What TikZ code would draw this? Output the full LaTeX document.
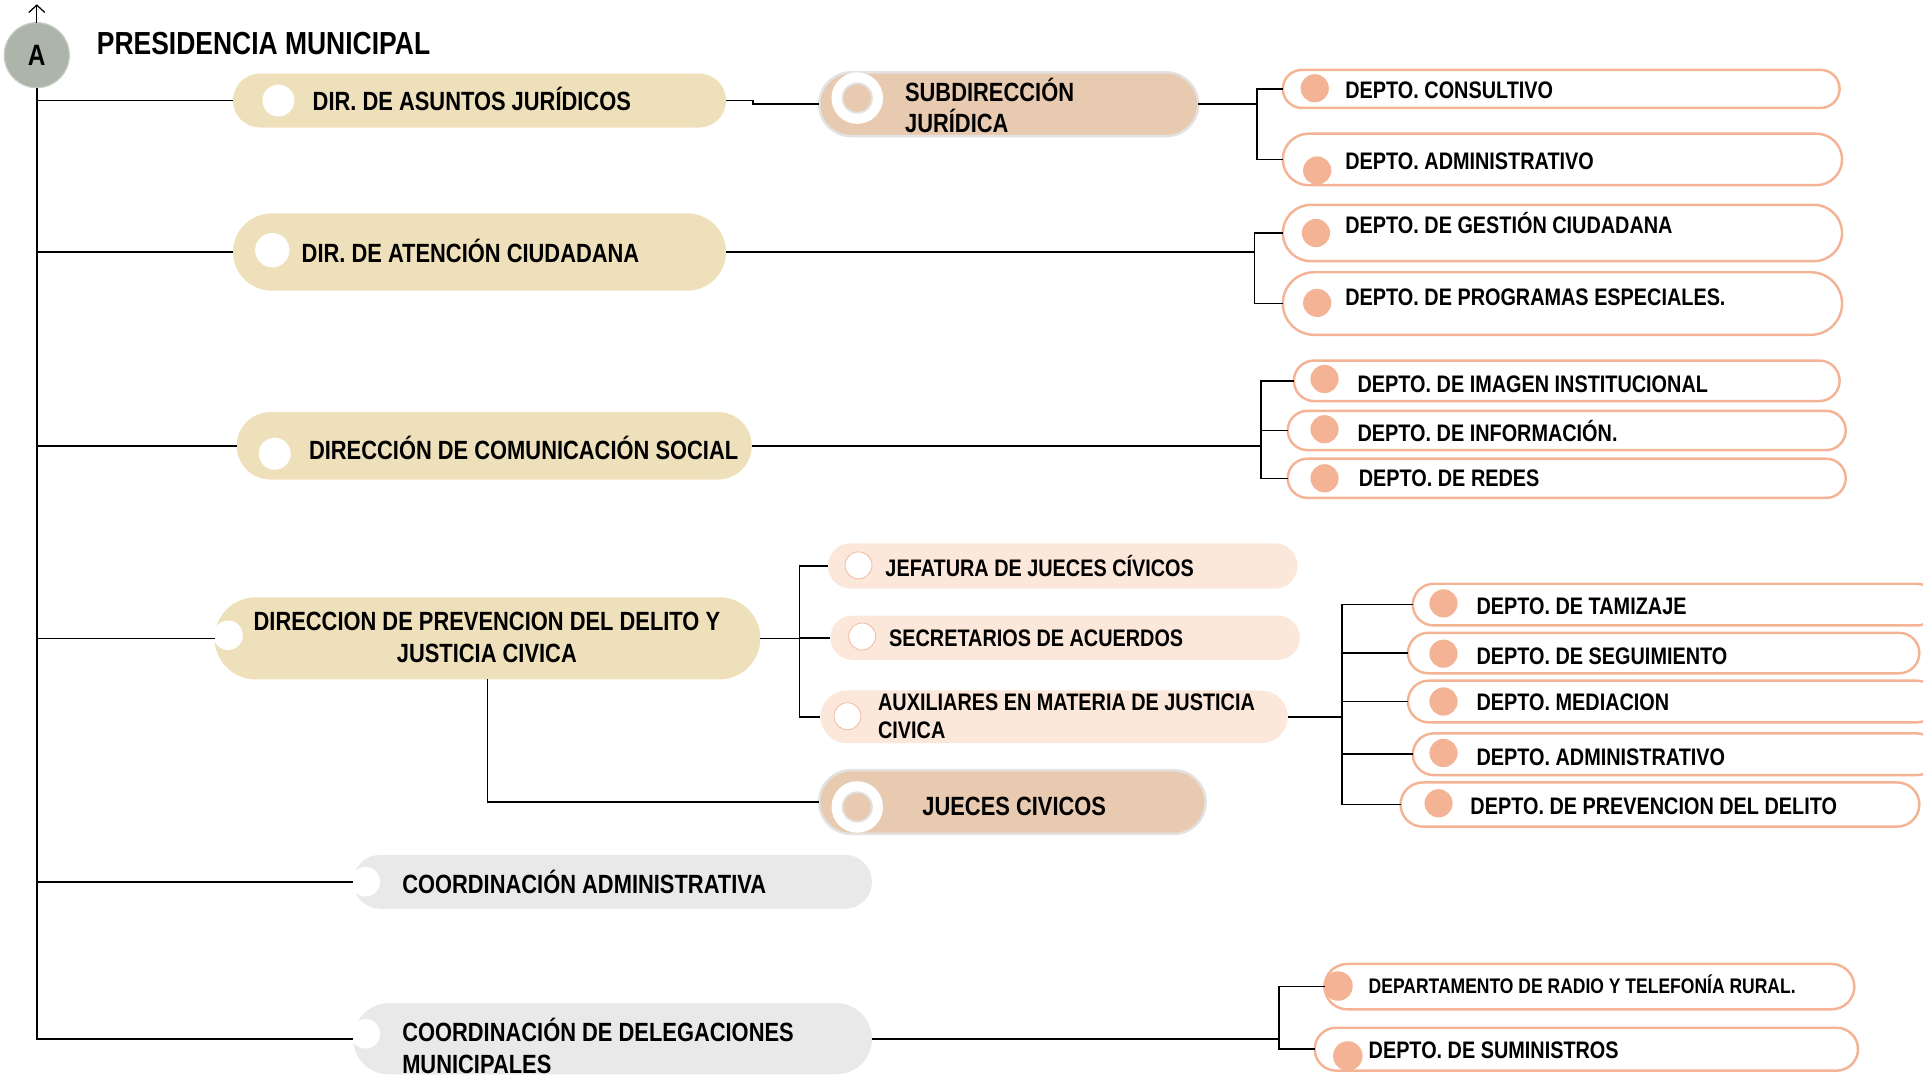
\documentclass[tikz,border=0pt]{standalone}
\usepackage{fontspec}
\setmainfont[FakeStretch=0.83]{Liberation Sans}
\usetikzlibrary{arrows,arrows.meta,shapes.misc}

\definecolor{crema}{HTML}{EEE0BA}
\definecolor{cafe}{HTML}{E8CAB0}
\definecolor{durazno}{HTML}{FBE8DA}
\definecolor{salmon}{HTML}{F5B396}
\definecolor{grisclaro}{HTML}{E9E9E9}
\definecolor{bordegris}{HTML}{E2E2E2}
\definecolor{grisA}{HTML}{ADB5AB}

\tikzset{
  every node/.style={inner sep=0pt, outer sep=0pt},
  crm/.style={shape=rounded rectangle, fill=crema},
  gry/.style={shape=rounded rectangle, fill=grisclaro},
  caf/.style={shape=rounded rectangle, fill=cafe, draw=bordegris, line width=2pt},
  pch/.style={shape=rounded rectangle, fill=durazno},
  dpt/.style={shape=rounded rectangle, fill=white, draw=salmon, line width=2pt},
  wdot/.style={circle, fill=white, minimum size=26pt},
  sdot/.style={circle, fill=salmon, minimum size=23pt},
  pdot/.style={circle, fill=white, draw=salmon, line width=0.6pt, minimum size=22pt},
  anillo/.style={circle, fill=cafe, draw=bordegris, line width=1.5pt, minimum size=24pt},
  anillob/.style={circle, fill=white, minimum size=42pt},
  txa/.style={anchor=west, font=\bfseries\fontsize{21.5}{26}\selectfont, text height=15.5pt, text depth=0pt},
  txb/.style={anchor=west, font=\bfseries\fontsize{19.5}{23}\selectfont, text height=14pt, text depth=0pt},
  mla/.style={anchor=west, align=left, font=\bfseries\fontsize{21.5}{26}\selectfont},
  lnk/.style={line width=1.3pt},
}

\begin{document}
\begin{tikzpicture}[x=1pt, y=-1pt]
\useasboundingbox (0,0) rectangle (1568,877);
\clip (0,0) rectangle (1568,877);

% head
\node[circle, fill=grisA, draw=grisA!70, line width=1pt, minimum size=53pt, font=\bfseries\fontsize{24}{24}\selectfont] (A) at (30,45) {A};
\draw[-{Straight Barb[length=6pt, width=13pt, line width=1pt]}, line width=1pt] (A.north) -- ++(0,-15);
\node[anchor=west, font=\bfseries\fontsize{26}{30}\selectfont, text height=18.6pt, text depth=0pt] (pres) at (79,35) {PRESIDENCIA MUNICIPAL};

% direcciones
\node[crm, minimum width=402pt, minimum height=44pt] (dasj) at (391,82) {};
\node[wdot] (odasj) at (227,82) {};
\node[txa] (tdasj) at (255,82) {DIR. DE ASUNTOS JURÍDICOS};

\node[crm, minimum width=402pt, minimum height=63pt] (dac) at (391,205.5) {};
\node[wdot, minimum size=28pt] (odac) at (222,204) {};
\node[txa] (tdac) at (246,206) {DIR. DE ATENCIÓN CIUDADANA};

\node[crm, minimum width=420pt, minimum height=55pt] (dcs) at (403,363.5) {};
\node[wdot] (odcs) at (224,370) {};
\node[txa] (tdcs) at (252,367) {DIRECCIÓN DE COMUNICACIÓN SOCIAL};

\node[crm, minimum width=445pt, minimum height=67pt] (dpd) at (397.5,520.5) {};
\node[wdot, minimum size=24pt] (odpd) at (186,518) {};
\node[align=center, font=\bfseries\fontsize{21.5}{26}\selectfont] (tdpd) at (397,520) {DIRECCION DE PREVENCION DEL DELITO Y\\JUSTICIA CIVICA};

\node[gry, minimum width=423pt, minimum height=44pt] (cadm) at (499.5,719) {};
\node[wdot, minimum size=24pt] (ocadm) at (298,719) {};
\node[txa] (tcadm) at (328,721) {COORDINACIÓN ADMINISTRATIVA};

\node[gry, minimum width=423pt, minimum height=58pt] (cdel) at (499.5,847) {};
\node[wdot, minimum size=24pt] (ocdel) at (298,843) {};
\node[mla] (tcdel) at (328,853) {COORDINACIÓN DE DELEGACIONES\\MUNICIPALES};

% subdireccion y jueces
\node[caf, minimum width=309pt, minimum height=52pt] (subj) at (822.5,85) {};
\node[anillob] (rsubj) at (699,80) {};
\node[anillo] (isubj) at (699,80) {};
\node[mla] (tsubj) at (738,86) {SUBDIRECCIÓN\\JURÍDICA};

\node[caf, minimum width=315pt, minimum height=52pt] (jciv) at (825.5,654) {};
\node[anillob] (rjciv) at (699,658) {};
\node[anillo] (ijciv) at (699,658) {};
\node[txa, anchor=center] (tjciv) at (827,657) {JUECES CIVICOS};

% jefatura, secretarios, auxiliares
\node[pch, minimum width=383pt, minimum height=37pt] (jefa) at (866.5,461.5) {};
\node[pdot] (ojefa) at (700,461) {};
\node[txb] (tjefa) at (722,463) {JEFATURA DE JUECES CÍVICOS};

\node[pch, minimum width=383pt, minimum height=36pt] (secr) at (868.5,520) {};
\node[pdot] (osecr) at (703,519) {};
\node[txb] (tsecr) at (725,520) {SECRETARIOS DE ACUERDOS};

\node[pch, minimum width=381pt, minimum height=43pt] (auxi) at (859.5,584.5) {};
\node[pdot] (oauxi) at (691,584) {};
\node[anchor=west, align=left, font=\bfseries\fontsize{19.5}{23}\selectfont] (tauxi) at (716,584) {AUXILIARES EN MATERIA DE JUSTICIA\\CIVICA};

% departamentos
\node[dpt, minimum width=454pt, minimum height=31pt] (cons) at (1273,72.5) {};
\node[sdot] (ocons) at (1072,72) {};
\node[txb] (tcons) at (1097,73) {DEPTO. CONSULTIVO};

\node[dpt, minimum width=456pt, minimum height=42pt] (adm1) at (1274,130) {};
\node[sdot] (oadm1) at (1074,139) {};
\node[txb] (tadm1) at (1097,131) {DEPTO. ADMINISTRATIVO};

\node[dpt, minimum width=456pt, minimum height=46pt] (gest) at (1274,190) {};
\node[sdot] (ogest) at (1073,190) {};
\node[txb] (tgest) at (1097,183) {DEPTO. DE GESTIÓN CIUDADANA};

\node[dpt, minimum width=456pt, minimum height=51pt] (prog) at (1274,247.5) {};
\node[sdot] (oprog) at (1074,247) {};
\node[txb] (tprog) at (1097,242) {DEPTO. DE PROGRAMAS ESPECIALES.};

\node[dpt, minimum width=445pt, minimum height=33pt] (imag) at (1277.5,310.5) {};
\node[sdot] (oimag) at (1080,309) {};
\node[txb] (timag) at (1107,313) {DEPTO. DE IMAGEN INSTITUCIONAL};

\node[dpt, minimum width=455pt, minimum height=32pt] (info) at (1277.5,351) {};
\node[sdot] (oinfo) at (1080,350) {};
\node[txb] (tinfo) at (1107,353) {DEPTO. DE INFORMACIÓN.};

\node[dpt, minimum width=455pt, minimum height=32pt] (rede) at (1277.5,390) {};
\node[sdot] (orede) at (1080,390) {};
\node[txb] (trede) at (1108,390) {DEPTO. DE REDES};

\node[dpt, minimum width=428pt, minimum height=34pt] (tami) at (1366,493) {};
\node[sdot] (otami) at (1177,492) {};
\node[txb] (ttami) at (1204,494) {DEPTO. DE TAMIZAJE};

\node[dpt, minimum width=417pt, minimum height=33pt] (segu) at (1356.5,532.5) {};
\node[sdot] (osegu) at (1177,533) {};
\node[txb] (tsegu) at (1204,535) {DEPTO. DE SEGUIMIENTO};

\node[dpt, minimum width=432pt, minimum height=34pt] (medi) at (1364,572) {};
\node[sdot] (omedi) at (1177,572) {};
\node[txb] (tmedi) at (1204,572) {DEPTO. MEDIACION};

\node[dpt, minimum width=428pt, minimum height=34pt] (adm2) at (1366,615) {};
\node[sdot] (oadm2) at (1177,614) {};
\node[txb] (tadm2) at (1204,617) {DEPTO. ADMINISTRATIVO};

\node[dpt, minimum width=423pt, minimum height=36pt] (prev) at (1353.5,656) {};
\node[sdot] (oprev) at (1173,655) {};
\node[txb] (tprev) at (1199,657) {DEPTO. DE PREVENCION DEL DELITO};

\node[dpt, minimum width=432pt, minimum height=37pt] (radi) at (1296,804.5) {};
\node[sdot, minimum size=24pt] (oradi) at (1091,804) {};
\node[txb, font=\bfseries\fontsize{17.2}{20}\selectfont, text height=12.4pt] (tradi) at (1116,804) {DEPARTAMENTO DE RADIO Y TELEFONÍA RURAL.};

\node[dpt, minimum width=443pt, minimum height=35pt] (sumi) at (1293.5,855.5) {};
\node[sdot, minimum size=24pt] (osumi) at (1099,861) {};
\node[txb] (tsumi) at (1116,856) {DEPTO. DE SUMINISTROS};

% lines
\draw[lnk] (A.south) |- (cdel.west);
\draw[lnk] (A.south |- dasj.west) -- (dasj.west);
\draw[lnk] (A.south |- dac.west) -- (dac.west);
\draw[lnk] (A.south |- dcs.west) -- (dcs.west);
\draw[lnk] (A.south |- dpd.west) -- (dpd.west);
\draw[lnk] (A.south |- cadm.west) -- (cadm.west);

\draw[lnk] (dasj.east) -- ++(22,0) |- (subj.west);
\draw[lnk] (subj.east) -- ++(48,0) coordinate (b1) |- (cons.west);
\draw[lnk] (b1) |- (adm1.west);

\draw[lnk] (dac.east) -- ++(431,0) coordinate (b2) |- (gest.west);
\draw[lnk] (b2) |- (prog.west);

\draw[lnk] (dcs.east) -- ++(415,0) coordinate (b3) |- (imag.west);
\draw[lnk] (b3) |- (info.west);
\draw[lnk] (b3) |- (rede.west);

\draw[lnk] (dpd.east) -- ++(32,0) coordinate (b4) |- (jefa.west);
\draw[lnk] (b4) |- (secr.west);
\draw[lnk] (b4) |- (auxi.west);
\draw[lnk] (dpd.south) |- (jciv.west);

\draw[lnk] (auxi.east) -- ++(44,0) coordinate (b5) |- (tami.west);
\draw[lnk] (b5) |- (segu.west);
\draw[lnk] (b5) |- (medi.west);
\draw[lnk] (b5) |- (adm2.west);
\draw[lnk] (b5) |- (prev.west);

\draw[lnk] (cdel.east) -- ++(332,0) coordinate (b6) |- (radi.west);
\draw[lnk] (b6) |- (sumi.west);

\end{tikzpicture}
\end{document}
